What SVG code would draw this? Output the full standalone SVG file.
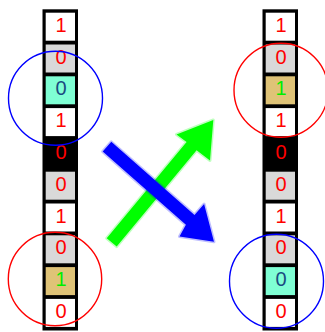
<svg xmlns="http://www.w3.org/2000/svg" width="325" height="332" viewBox="0 0 325 332">
  <style>
    .strip { fill: #000; }
    .white { fill: #ffffff; }
    .gray { fill: #d9d9d9; }
    .cyan { fill: #7fffd4; }
    .gold { fill: #dfc377; }
    text { font-family: "Liberation Sans", Arial, sans-serif; font-size: 20px; text-anchor: middle; }
    .red { fill: #ff0000; }
    .dark { fill: #1a4a80; }
    .green { fill: #00ee00; }
    .ring { fill: none; stroke-width: 1.4; }
    .ring-blue { stroke: #0000ff; }
    .ring-red { stroke: #ff0000; }
  </style>

  <!-- left tape -->
  <g id="tape-left">
    <rect class="strip" x="42.5" y="9.3" width="35.5" height="321.2"/>
    <g id="tape-left-0"><rect class="white" x="45.7" y="12.7" width="29.3" height="28"/><text class="red" x="61" y="31.7">1</text></g>
    <g id="tape-left-1"><rect class="gray" x="45.7" y="44.5" width="29.3" height="28"/><text class="red" x="61" y="63.5">0</text></g>
    <g id="tape-left-2"><rect class="cyan" x="45.7" y="76.3" width="29.3" height="28"/><text class="dark" x="61" y="95.3">0</text></g>
    <g id="tape-left-3"><rect class="white" x="45.7" y="108.1" width="29.3" height="28"/><text class="red" x="61" y="127.1">1</text></g>
    <g id="tape-left-4"><text class="red" x="61" y="158.9">0</text></g>
    <g id="tape-left-5"><rect class="gray" x="45.7" y="171.7" width="29.3" height="28"/><text class="red" x="61" y="190.7">0</text></g>
    <g id="tape-left-6"><rect class="white" x="45.7" y="203.5" width="29.3" height="28"/><text class="red" x="61" y="222.5">1</text></g>
    <g id="tape-left-7"><rect class="gray" x="45.7" y="235.3" width="29.3" height="28"/><text class="red" x="61" y="254.3">0</text></g>
    <g id="tape-left-8"><rect class="gold" x="45.7" y="267.1" width="29.3" height="28"/><text class="green" x="61" y="286.1">1</text></g>
    <g id="tape-left-9"><rect class="white" x="45.7" y="298.9" width="29.3" height="28"/><text class="red" x="61" y="317.9">0</text></g>
  </g>

  <!-- right tape -->
  <g id="tape-right">
    <rect class="strip" x="262.5" y="9.3" width="35.5" height="321.2"/>
    <g id="tape-right-0"><rect class="white" x="265.7" y="12.7" width="29.3" height="28"/><text class="red" x="281" y="31.7">1</text></g>
    <g id="tape-right-1"><rect class="gray" x="265.7" y="44.5" width="29.3" height="28"/><text class="red" x="281" y="63.5">0</text></g>
    <g id="tape-right-2"><rect class="gold" x="265.7" y="76.3" width="29.3" height="28"/><text class="green" x="281" y="95.3">1</text></g>
    <g id="tape-right-3"><rect class="white" x="265.7" y="108.1" width="29.3" height="28"/><text class="red" x="281" y="127.1">1</text></g>
    <g id="tape-right-4"><text class="red" x="281" y="158.9">0</text></g>
    <g id="tape-right-5"><rect class="gray" x="265.7" y="171.7" width="29.3" height="28"/><text class="red" x="281" y="190.7">0</text></g>
    <g id="tape-right-6"><rect class="white" x="265.7" y="203.5" width="29.3" height="28"/><text class="red" x="281" y="222.5">1</text></g>
    <g id="tape-right-7"><rect class="gray" x="265.7" y="235.3" width="29.3" height="28"/><text class="red" x="281" y="254.3">0</text></g>
    <g id="tape-right-8"><rect class="cyan" x="265.7" y="267.1" width="29.3" height="28"/><text class="dark" x="281" y="286.1">0</text></g>
    <g id="tape-right-9"><rect class="white" x="265.7" y="298.9" width="29.3" height="28"/><text class="red" x="281" y="317.9">0</text></g>
  </g>

  <!-- selection rings -->
  <g id="ring-left-top"><circle class="ring ring-blue" cx="55.5" cy="98.3" r="47"/></g>
  <g id="ring-left-bottom"><circle class="ring ring-red" cx="55" cy="279" r="46.7"/></g>
  <g id="ring-right-top"><circle class="ring ring-red" cx="281" cy="90.3" r="47"/></g>
  <g id="ring-right-bottom"><circle class="ring ring-blue" cx="276.5" cy="281.3" r="47"/></g>

  <!-- swap arrows -->
  <g id="connectors">
    <polygon id="arrow-up" fill="#00ff00" stroke="#00ff00" stroke-opacity="0.25" stroke-width="3" stroke-linejoin="round"
      points="106.7,238.3 186.6,142.0 176.5,134.5 213.3,120 210.0,160.5 196.6,150.2 116.7,246.6"/>
    <polygon id="arrow-down" fill="#0000ff" stroke="#0000ff" stroke-opacity="0.25" stroke-width="3" stroke-linejoin="round"
      points="111.3,141.8 194.5,215.0 204.1,204.1 214,241.7 179.5,236.5 185.9,224.8 102.7,151.6"/>
  </g>
</svg>
